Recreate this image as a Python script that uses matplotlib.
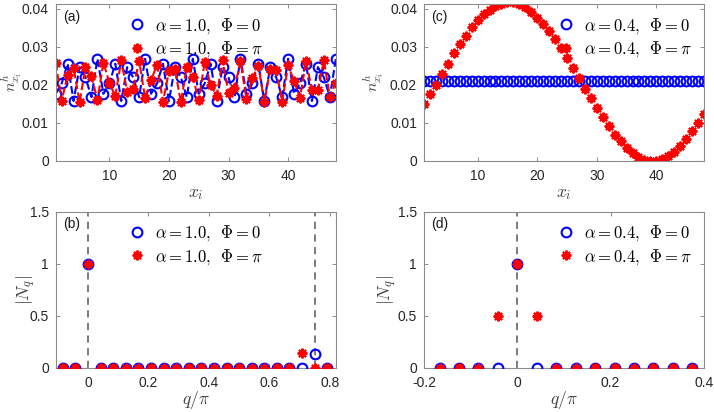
import matplotlib
matplotlib.use("Agg")
import matplotlib.pyplot as plt

plt.rcParams['font.family'] = ['Liberation Sans', 'DejaVu Sans']
plt.rcParams['mathtext.fontset'] = 'cm'

# ---------------- data ----------------
x_sites = list(range(1, 49))

a_phi0 = [0.0176, 0.0203, 0.0255, 0.0157, 0.0246, 0.0219, 0.0167, 0.0268,
          0.0176, 0.0203, 0.0255, 0.0157, 0.0246, 0.0219, 0.0167, 0.0268,
          0.0176, 0.0203, 0.0255, 0.0157, 0.0246, 0.0219, 0.0167, 0.0268,
          0.0176, 0.0203, 0.0255, 0.0157, 0.0246, 0.0219, 0.0167, 0.0268,
          0.0176, 0.0203, 0.0255, 0.0157, 0.0246, 0.0219, 0.0167, 0.0268,
          0.0176, 0.0203, 0.0255, 0.0157, 0.0246, 0.0219, 0.0167, 0.0268]
a_phipi = [0.0257, 0.0157, 0.0226, 0.0244, 0.0154, 0.0246, 0.0223, 0.0159,
           0.0258, 0.0205, 0.0170, 0.0264, 0.0180, 0.0189, 0.0263, 0.0165,
           0.0212, 0.0252, 0.0155, 0.0235, 0.0240, 0.0154, 0.0247, 0.0220,
           0.0159, 0.0260, 0.0198, 0.0171, 0.0264, 0.0177, 0.0191, 0.0261,
           0.0162, 0.0218, 0.0250, 0.0155, 0.0240, 0.0238, 0.0155, 0.0251,
           0.0209, 0.0166, 0.0262, 0.0186, 0.0185, 0.0264, 0.0168, 0.0205]

c_phi0 = [0.0209] * 48
c_phipi = [0.0148, 0.0175, 0.0200, 0.0227, 0.0253, 0.0282, 0.0307, 0.0329,
           0.0351, 0.0369, 0.0385, 0.0397, 0.0406, 0.0413, 0.0417, 0.0417,
           0.0413, 0.0404, 0.0391, 0.0376, 0.0360, 0.0342, 0.0320, 0.0296,
           0.0271, 0.0244, 0.0218, 0.0189, 0.0164, 0.0138, 0.0114, 0.0091,
           0.0068, 0.0051, 0.0034, 0.0020, 0.0010, 0.0003, 0.0000, 0.0000,
           0.0004, 0.0012, 0.0022, 0.0038, 0.0056, 0.0077, 0.0098, 0.0122]

b_k = list(range(-2, 20))
b_q = [k / 24 for k in b_k]
b_phi0 = [0, 0, 1, 0, 0, 0, 0, 0, 0, 0, 0, 0, 0, 0, 0, 0, 0, 0, 0, 0, 0.135, 0]
b_phipi = [0, 0, 1, 0, 0, 0, 0, 0, 0, 0, 0, 0, 0, 0, 0, 0, 0, 0, 0, 0.14, 0, 0]
b_vlines = [0, 0.75]

d_k = list(range(-4, 10))
d_q = [k / 24 for k in d_k]
d_phi0 = [0, 0, 0, 0, 1, 0, 0, 0, 0, 0, 0, 0, 0, 0]
d_phipi = [0, 0, 0, 0.5, 1, 0.5, 0, 0, 0, 0, 0, 0, 0, 0]
d_vlines = [0]

lab_a = [r'$\alpha = 1.0,\ \,\Phi = 0$', r'$\alpha = 1.0,\ \,\Phi = \pi$']
lab_c = [r'$\alpha = 0.4,\ \,\Phi = 0$', r'$\alpha = 0.4,\ \,\Phi = \pi$']

# ---------------- figure ----------------
fig = plt.figure(figsize=(7.14, 4.12), dpi=100)
W, H = 714, 412

def add_ax(l, r, t, b):
    return fig.add_axes([l / W, 1 - b / H, (r - l) / W, (b - t) / H])

axA = add_ax(55.7, 335.8, 4, 160.7)
axC = add_ax(424, 704, 4, 160.7)
axB = add_ax(55.7, 335.8, 211.7, 367.7)
axD = add_ax(424, 704, 211.7, 367.7)

BLUE = (0, 0, 1)
RED = (1, 0, 0)
AST = (8, 2, 0)
circ_kw = dict(marker='o', ms=7.0, mfc='none', mec=BLUE, mew=1.5)
star_kw = dict(marker=AST, ms=7.0, mec=RED, mfc=RED, mew=1.5)

def style(ax):
    for s in ax.spines.values():
        s.set_color('#8c8c8c')
        s.set_linewidth(0.8)
    ax.tick_params(direction='in', length=3, width=0.7, color='#8c8c8c',
                   labelsize=10, labelcolor='#262626', top=True, right=True)
    ax.tick_params(axis='x', pad=6)
    ax.tick_params(axis='y', pad=5)

# (a)
axA.plot(x_sites, a_phi0, ls='--', color=BLUE, lw=1.5, label=lab_a[0], **circ_kw)
axA.plot(x_sites, a_phipi, ls='--', color=RED, lw=1.5, label=lab_a[1], **star_kw)
axA.set_xlim(1, 48)
axA.set_ylim(0, 0.0412)
axA.set_xticks([10, 20, 30, 40])
axA.set_yticks([0, 0.01, 0.02, 0.03, 0.04])
axA.set_yticklabels(['0', '0.01', '0.02', '0.03', '0.04'])

# (c)
axC.plot(x_sites, c_phi0, ls='none', label=lab_c[0], **circ_kw)
axC.plot(x_sites, c_phipi, ls='none', label=lab_c[1], **star_kw)
axC.set_xlim(1, 48)
axC.set_ylim(0, 0.0412)
axC.set_xticks([10, 20, 30, 40])
axC.set_yticks([0, 0.01, 0.02, 0.03, 0.04])
axC.set_yticklabels(['0', '0.01', '0.02', '0.03', '0.04'])

# (b)
for v in b_vlines:
    axB.axvline(v, color='#707070', ls=(0, (4, 3)), lw=1.3, zorder=1)
axB.plot(b_q, b_phi0, ls='none', label=lab_a[0], zorder=3, **circ_kw)
axB.plot(b_q, b_phipi, ls='none', label=lab_a[1], zorder=4, **star_kw)
axB.set_xlim(-0.107, 0.82)
axB.set_ylim(0, 1.5)
axB.set_xticks([0, 0.2, 0.4, 0.6, 0.8])
axB.set_xticklabels(['0', '0.2', '0.4', '0.6', '0.8'])
axB.set_yticks([0, 0.5, 1, 1.5])
axB.set_yticklabels(['0', '0.5', '1', '1.5'])

# (d)
for v in d_vlines:
    axD.axvline(v, color='#707070', ls=(0, (4, 3)), lw=1.3, zorder=1)
axD.plot(d_q, d_phi0, ls='none', label=lab_c[0], zorder=3, **circ_kw)
axD.plot(d_q, d_phipi, ls='none', label=lab_c[1], zorder=4, **star_kw)
axD.set_xlim(-0.2, 0.4)
axD.set_ylim(0, 1.5)
axD.set_xticks([-0.2, 0, 0.2, 0.4])
axD.set_xticklabels(['-0.2', '0', '0.2', '0.4'])
axD.set_yticks([0, 0.5, 1, 1.5])
axD.set_yticklabels(['0', '0.5', '1', '1.5'])

for ax in (axA, axB, axC, axD):
    style(ax)

leg_kw = dict(frameon=False, fontsize=12, handlelength=1.0, handletextpad=0.6,
              labelspacing=0.2, borderaxespad=0.3)
for ax in (axA, axB):
    ax.legend(loc='upper center', **leg_kw)
for ax in (axC, axD):
    ax.legend(loc='upper right', **leg_kw)
for ax in (axA, axB, axC, axD):
    for ln in ax.get_legend().get_lines():
        ln.set_linestyle('none')

for ax, t in zip((axA, axB, axC, axD), ('(a)', '(b)', '(c)', '(d)')):
    ax.text(0.025, 0.92, t, transform=ax.transAxes, fontsize=10,
            color='#1a1a1a', va='center', ha='left')

lab_col = '#404040'
for ax, yx in ((axA, -0.158), (axC, -0.18)):
    ax.set_xlabel(r'$x_i$', fontsize=12.5, color=lab_col, va='center')
    ax.set_ylabel(r'$n^h_{x_i}$', fontsize=11.5, color=lab_col, va='center')
    ax.xaxis.set_label_coords(0.5, -0.215)
    ax.yaxis.set_label_coords(yx, 0.5)
for ax, yx in ((axB, -0.105), (axD, -0.13)):
    ax.set_xlabel(r'$q/\pi$', fontsize=12.5, color=lab_col, va='center')
    ax.set_ylabel(r'$|N_q|$', fontsize=12.5, color=lab_col, va='center')
    ax.xaxis.set_label_coords(0.5, -0.205)
    ax.yaxis.set_label_coords(yx, 0.5)

fig.savefig('out.png', dpi=100)
